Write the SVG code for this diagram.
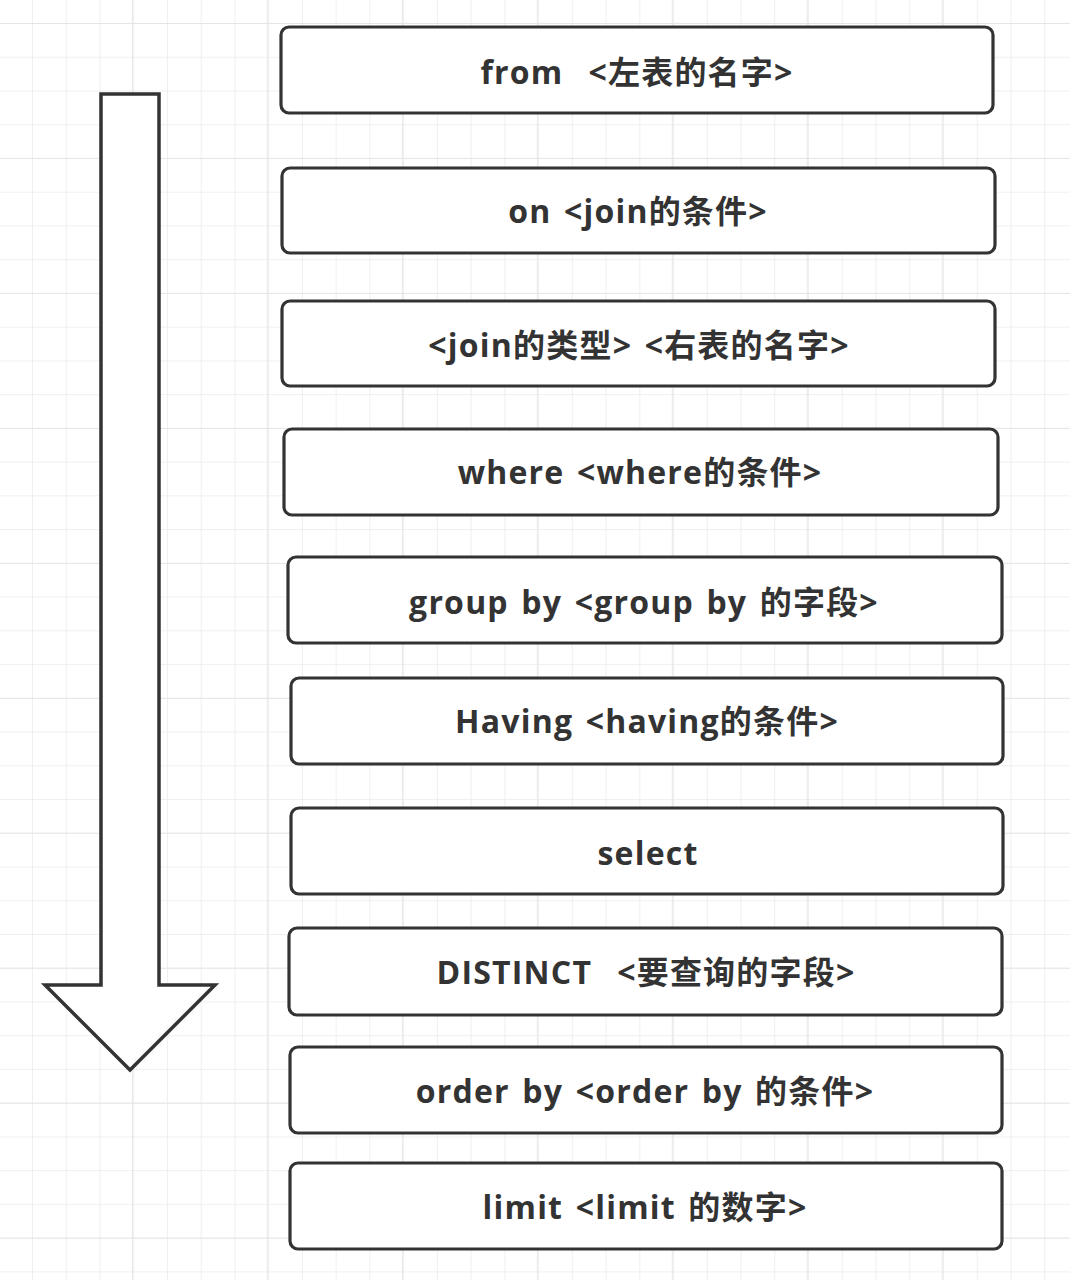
<svg xmlns="http://www.w3.org/2000/svg" width="1070" height="1280" viewBox="0 0 1070 1280">
<defs>
<pattern id="minor" patternUnits="userSpaceOnUse" x="32" y="23" width="33.74" height="33.74">
<path d="M0 0 V33.74 M0 0 H33.74" fill="none" stroke="#ebebeb" stroke-width="1.6"/>
</pattern>
<pattern id="major" patternUnits="userSpaceOnUse" x="-3" y="23" width="134.96" height="134.96">
<path d="M0 0 V134.96 M0 0 H134.96" fill="none" stroke="#e2e2e2" stroke-width="1.6"/>
</pattern>
<style>
.box{fill:#fff;stroke:#333;stroke-width:3.2}
.lbl{font-family:"Open Sans","Noto Sans CJK SC",sans-serif;font-weight:bold;font-size:32px;letter-spacing:1.2px;word-spacing:3px;fill:#333;text-anchor:middle;white-space:pre}
</style>
</defs>
<rect width="1070" height="1280" fill="#fff"/>
<rect width="1070" height="1280" fill="url(#minor)"/>
<rect width="1070" height="1280" fill="url(#major)"/>
<g id="connectors">
<polygon id="flow-arrow" points="101,94 159,94 159,985 215,985 130,1070 45,985 101,985" fill="#fff" stroke="#333" stroke-width="3.5" stroke-linejoin="miter"/>
</g>
<g id="n1"><rect class="box" x="281" y="27" width="712" height="86" rx="8"/><text class="lbl" x="637" y="84">from  &lt;左表的名字&gt;</text></g>
<g id="n2"><rect class="box" x="282" y="168" width="713" height="85" rx="8"/><text class="lbl" x="638" y="223">on &lt;join的条件&gt;</text></g>
<g id="n3"><rect class="box" x="282" y="301" width="713" height="85" rx="8"/><text class="lbl" x="639" y="357">&lt;join的类型&gt; &lt;右表的名字&gt;</text></g>
<g id="n4"><rect class="box" x="284" y="429" width="714" height="86" rx="8"/><text class="lbl" x="640" y="484">where &lt;where的条件&gt;</text></g>
<g id="n5"><rect class="box" x="288" y="557" width="714" height="86" rx="8"/><text class="lbl" x="644" y="614">group by &lt;group by 的字段&gt;</text></g>
<g id="n6"><rect class="box" x="291" y="678" width="712" height="86" rx="8"/><text class="lbl" x="647" y="733">Having &lt;having的条件&gt;</text></g>
<g id="n7"><rect class="box" x="291" y="808" width="712" height="86" rx="8"/><text class="lbl" x="648" y="865">select</text></g>
<g id="n8"><rect class="box" x="289" y="928" width="713" height="87" rx="8"/><text class="lbl" x="646" y="984">DISTINCT  &lt;要查询的字段&gt;</text></g>
<g id="n9"><rect class="box" x="290" y="1047" width="712" height="86" rx="8"/><text class="lbl" x="645" y="1103">order by &lt;order by 的条件&gt;</text></g>
<g id="n10"><rect class="box" x="290" y="1163" width="712" height="86" rx="8"/><text class="lbl" x="645" y="1219">limit &lt;limit 的数字&gt;</text></g>
</svg>
